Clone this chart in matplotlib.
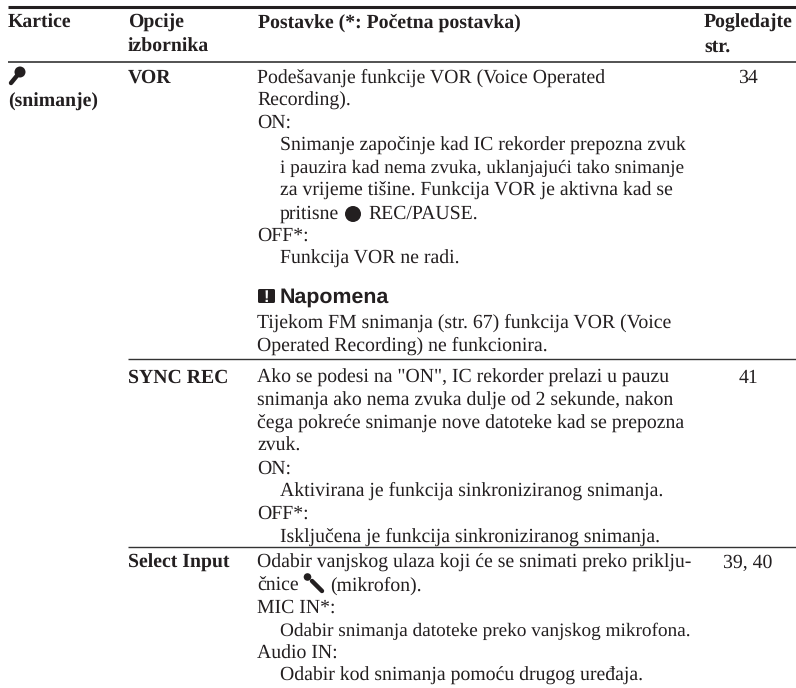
import matplotlib
matplotlib.use('Agg')
import matplotlib.pyplot as plt
from matplotlib.patches import Circle, FancyBboxPatch

plt.rcParams['text.hinting'] = 'no_hinting'

INK = '#231f20'
SERIF = 'Liberation Serif'
SIZE = 14.2
TIGHT_SIZE = 13.9
PITCH = 22.6

# table content: (indent, text)
headers = [(8, ['Kartice']), (128, ['Opcije', 'izbornika']),
           (258, ['Postavke (*: Početna postavka)']), (704, ['Pogledajte', 'str.'])]
tab_label = '(snimanje)'
menu_items = ['VOR', 'SYNC REC', 'Select Input']
page_refs = ['34', '41', '39, 40']
vor_lines = [(0, 'Podešavanje funkcije VOR (Voice Operated'),
             (0, 'Recording).'),
             (0, 'ON:'),
             (1, 'Snimanje započinje kad IC rekorder prepozna zvuk'),
             (1, 'i pauzira kad nema zvuka, uklanjajući tako snimanje'),
             (1, 'za vrijeme tišine. Funkcija VOR je aktivna kad se'),
             (1, 'pritisne'),
             (0, 'OFF*:'),
             (1, 'Funkcija VOR ne radi.')]
note_title = 'Napomena'
note_lines = ['Tijekom FM snimanja (str. 67) funkcija VOR (Voice',
              'Operated Recording) ne funkcionira.']
sync_lines = [(0, 'Ako se podesi na "ON", IC rekorder prelazi u pauzu'),
              (0, 'snimanja ako nema zvuka dulje od 2 sekunde, nakon'),
              (0, 'čega pokreće snimanje nove datoteke kad se prepozna'),
              (0, 'zvuk.'),
              (0, 'ON:'),
              (1, 'Aktivirana je funkcija sinkroniziranog snimanja.'),
              (0, 'OFF*:'),
              (1, 'Isključena je funkcija sinkroniziranog snimanja.')]
input_lines = [(0, 'Odabir vanjskog ulaza koji će se snimati preko priklju-'),
               (0, 'čnice'),
               (0, 'MIC IN*:'),
               (1, 'Odabir snimanja datoteke preko vanjskog mikrofona.'),
               (0, 'Audio IN:'),
               (1, 'Odabir kod snimanja pomoću drugog uređaja.')]
# these two are set a little tighter in the original
tight_lines = ['i pauzira kad nema zvuka, uklanjajući tako snimanje',
               'Odabir snimanja datoteke preko vanjskog mikrofona.']

fig = plt.figure(figsize=(7.96, 6.88), dpi=100)
ax = fig.add_axes([0, 0, 1, 1])
ax.set_xlim(0, 796)
ax.set_ylim(688, 0)
ax.axis('off')


def put(x, y, s, weight='normal', **kw):
    size = TIGHT_SIZE if s in tight_lines else SIZE
    ax.text(x, y, s, family=SERIF, fontsize=size, color=INK, weight=weight, va='baseline', **kw)


def block(lines, y):
    for i, (indent, s) in enumerate(lines):
        put(257 + indent * 23, y + i * PITCH, s)


def mic(x0, y0, x1, y1, r):
    ax.plot([x0, x1], [y0, y1], color=INK, lw=3.2, solid_capstyle='round')
    ax.add_patch(Circle((x1, y1), r, color=INK, lw=0))


# rules
ax.plot([8, 796], [7, 7], color=INK, lw=2.2, solid_capstyle='butt')
ax.plot([8, 796], [62, 62], color='#444444', lw=1.3, solid_capstyle='butt')
ax.plot([128, 796], [359, 359], color='#333333', lw=1.0, solid_capstyle='butt')
ax.plot([128, 796], [547, 547], color='#333333', lw=1.0, solid_capstyle='butt')

# header
for x, rows in headers:
    for i, s in enumerate(rows):
        put(x, 28 + i * 23.3, s, weight='bold')

# left columns
mic(11, 83, 20, 72, 5.5)
put(8, 107, tab_label, weight='bold')
for y, item, page in zip([83, 383, 568], menu_items, page_refs):
    put(128, y, item, weight='bold')
    put(748, y, page, ha='center')

# settings
block(vor_lines, 83)
ax.add_patch(Circle((353, 214), 8, color=INK, lw=0))
put(368, 83 + 6 * PITCH, 'REC/PAUSE.')

ax.add_patch(FancyBboxPatch((258, 289), 17, 14, boxstyle='round,pad=0,rounding_size=1.5', color=INK, lw=0))
ax.text(266.5, 302, '!', family='Liberation Sans', weight='bold', fontsize=12, color='white', ha='center', va='baseline')
ax.text(280, 303, note_title, family='Liberation Sans', weight='bold', fontsize=15.4, color=INK, va='baseline')
for i, s in enumerate(note_lines):
    put(257, 328 + i * PITCH, s)

block(sync_lines, 383)
block(input_lines, 568)
mic(322, 591, 312, 581, 0.5)
ax.add_patch(Circle((307.5, 577), 3.8, color=INK, lw=0))
put(330, 568 + PITCH, '(mikrofon).')

fig.savefig('out.png', dpi=100)
